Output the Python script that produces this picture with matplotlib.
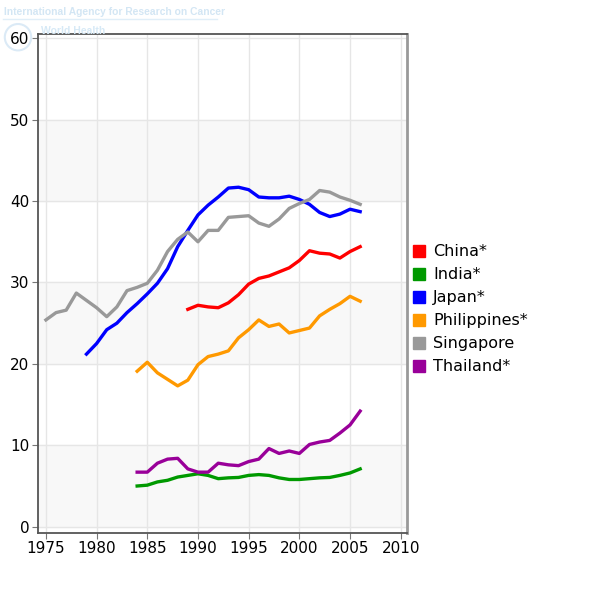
import matplotlib
matplotlib.use("Agg")
import matplotlib.pyplot as plt
from matplotlib.lines import Line2D
from matplotlib.patches import Circle

# values
years_sing = list(range(1975, 2007))
singapore = [25.4, 26.3, 26.6, 28.7, 27.8, 26.9, 25.8, 27.0, 29.0, 29.4, 29.9,
             31.5, 33.8, 35.3, 36.2, 35.0, 36.4, 36.4, 38.0, 38.1, 38.2, 37.3,
             36.9, 37.8, 39.1, 39.7, 40.2, 41.3, 41.1, 40.5, 40.1, 39.6]

years_japan = list(range(1979, 2007))
japan = [21.2, 22.5, 24.2, 25.0, 26.3, 27.4, 28.6, 29.9, 31.7, 34.4, 36.4,
         38.3, 39.5, 40.5, 41.6, 41.7, 41.4, 40.5, 40.4, 40.4, 40.6, 40.2,
         39.6, 38.6, 38.1, 38.4, 39.0, 38.7]

years_china = list(range(1989, 2007))
china = [26.7, 27.2, 27.0, 26.9, 27.5, 28.5, 29.8, 30.5, 30.8, 31.3, 31.8,
         32.7, 33.9, 33.6, 33.5, 33.0, 33.8, 34.4]

years_84 = list(range(1984, 2007))
philippines = [19.1, 20.2, 18.9, 18.1, 17.3, 18.0, 19.9, 20.9, 21.2, 21.6, 23.2,
               24.2, 25.4, 24.6, 24.9, 23.8, 24.1, 24.4, 25.9, 26.7, 27.4, 28.3, 27.7]
thailand = [6.7, 6.7, 7.8, 8.3, 8.4, 7.1, 6.7, 6.7, 7.8, 7.6, 7.5, 8.0, 8.3,
            9.6, 9.0, 9.3, 9.0, 10.1, 10.4, 10.6, 11.5, 12.5, 14.2]
india = [5.0, 5.1, 5.5, 5.7, 6.1, 6.3, 6.5, 6.3, 5.9, 6.0, 6.05, 6.3, 6.4,
         6.3, 6.0, 5.8, 5.8, 5.9, 6.0, 6.05, 6.3, 6.6, 7.1]

labels = ['China*', 'India*', 'Japan*', 'Philippines*', 'Singapore', 'Thailand*']
colors = ['#ff0000', '#009900', '#0000ff', '#ff9900', '#999999', '#990099']

fig = plt.figure(figsize=(6, 6), dpi=100)

# faint IARC watermark in the corner
fig.text(0.006, 0.972, 'International Agency for Research on Cancer',
         family='Liberation Sans', weight='bold', fontsize=7.4,
         color='#d3e6f4', va='bottom')
fig.add_artist(Line2D([0.005, 0.362], [0.968, 0.968], color='#e0eef8', lw=1))
fig.text(0.068, 0.94, 'World Health', family='Liberation Sans', weight='bold',
         fontsize=7.5, color='#d6e9f6', va='bottom')
fig.add_artist(Circle((0.03, 0.938), 0.022, fill=False, ec='#dbeaf6', lw=1.5))

ax = fig.add_axes([0.063, 0.112, 0.615, 0.831])

for lo in (0, 20, 40):
    ax.axhspan(lo, lo + 10, color='#f8f8f8', zorder=0)

ax.plot(years_china, china, color=colors[0], lw=2.4)
ax.plot(years_84, india, color=colors[1], lw=2.4)
ax.plot(years_japan, japan, color=colors[2], lw=2.4)
ax.plot(years_84, philippines, color=colors[3], lw=2.4)
ax.plot(years_sing, singapore, color=colors[4], lw=2.4)
ax.plot(years_84, thailand, color=colors[5], lw=2.4)

ax.set_xlim(1974.2, 2010.6)
ax.set_ylim(-0.75, 60.5)
ax.set_xticks(range(1975, 2011, 5))
ax.set_yticks(range(0, 61, 10))
ax.grid(True, color='#e6e6e6', lw=1)
ax.set_axisbelow(True)
ax.tick_params(labelsize=11, length=4, color='#777777', pad=2)

for s in ('left', 'bottom', 'top'):
    ax.spines[s].set_color('#555555')
    ax.spines[s].set_linewidth(1.3)
ax.spines['right'].set_color('#999999')
ax.spines['right'].set_linewidth(2)

handles = [Line2D([], [], ls='none', marker='s', markersize=9, color=c) for c in colors]
fig.legend(handles, labels, loc='upper left', bbox_to_anchor=(0.658, 0.617),
           frameon=False, fontsize=11.5, handletextpad=0.3, labelspacing=0.5,
           handlelength=1.2)

fig.savefig('out.png', dpi=100)
